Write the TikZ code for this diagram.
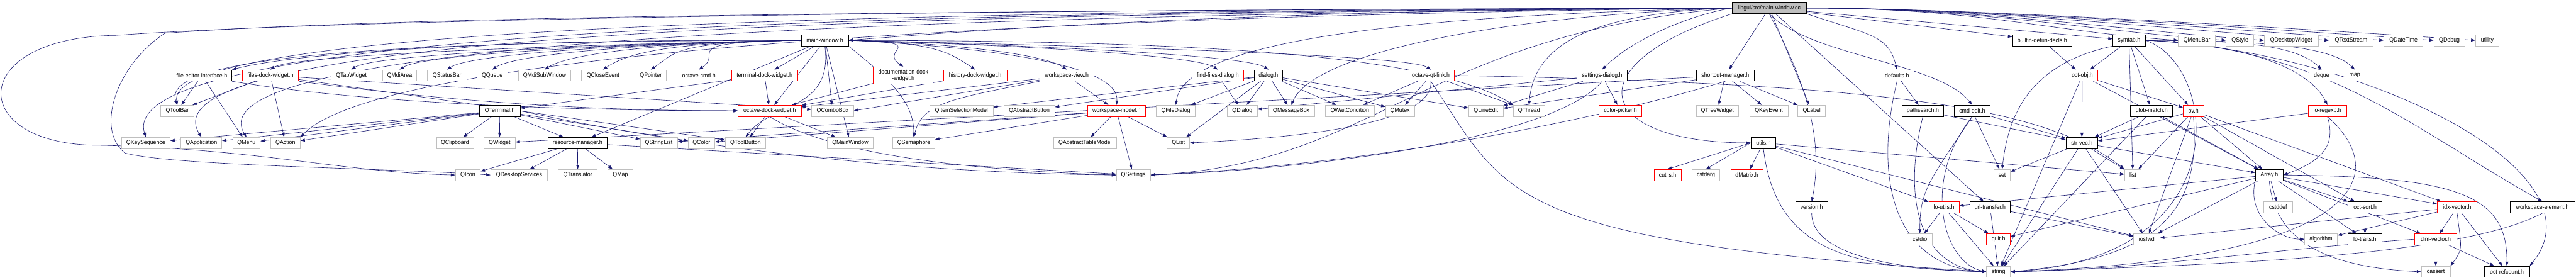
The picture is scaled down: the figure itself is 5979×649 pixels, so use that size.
\documentclass[tikz,border=0pt]{standalone}
\usepackage{fontspec}
\setmainfont{Liberation Sans}[FakeStretch=0.92]
\usetikzlibrary{arrows.meta,backgrounds}
\definecolor{edgeblue}{RGB}{25,25,112}
\definecolor{extgray}{RGB}{191,191,191}
\definecolor{truncred}{RGB}{255,0,0}

\begin{document}
\begin{tikzpicture}[
  x=1pt,y=-1pt,
  base/.style={rectangle,minimum height=26pt,inner sep=0pt,line width=1.1pt,fill=white,
    font=\fontsize{14}{15}\selectfont},
  ext/.style={base,draw=extgray},
  hdr/.style={base,draw=black},
  trunc/.style={base,draw=truncred},
  rootnode/.style={base,draw=black,fill=extgray},
  dep/.style={draw=edgeblue,line width=0.9pt,-{Triangle[length=10pt,width=7pt]}}
]
\useasboundingbox (0,0) rectangle (5979,649);
% row 0
\node[rootnode,minimum width=173pt] (root) at (4106.5,18.6) {libgui/src/main-window.cc};
% row 1
\node[hdr,minimum width=109pt] (mwh) at (1914.5,93.5) {main-window.h};
\node[hdr,minimum width=138pt] (builtin) at (4740,93.5) {builtin-defun-decls.h};
\node[hdr,minimum width=75pt] (symtab) at (4941.5,93.5) {symtab.h};
\node[ext,minimum width=86pt] (QMenuBar) at (5099,93.5) {QMenuBar};
\node[ext,minimum width=64pt] (QStyle) at (5199,93.5) {QStyle};
\node[ext,minimum width=126pt] (QDesktopWidget) at (5318,93.5) {QDesktopWidget};
\node[ext,minimum width=102pt] (QTextStream) at (5457,93.5) {QTextStream};
\node[ext,minimum width=91pt] (QDateTime) at (5578.5,93.5) {QDateTime};
\node[ext,minimum width=72pt] (QDebug) at (5685,93.5) {QDebug};
\node[ext,minimum width=54pt] (utility) at (5773,93.5) {utility};
% row 2
\node[hdr,minimum width=139pt] (fei) at (468.5,175) {file-editor-interface.h};
\node[trunc,minimum width=131pt] (fdw) at (627.5,175) {files-dock-widget.h};
\node[ext,minimum width=95pt] (QTabWidget) at (815.5,175) {QTabWidget};
\node[ext,minimum width=79pt] (QMdiArea) at (927.5,175) {QMdiArea};
\node[ext,minimum width=91pt] (QStatusBar) at (1037.5,175) {QStatusBar};
\node[ext,minimum width=71pt] (QQueue) at (1142.5,175) {QQueue};
\node[ext,minimum width=122pt] (QMdiSubWindow) at (1264,175) {QMdiSubWindow};
\node[ext,minimum width=101pt] (QCloseEvent) at (1399.5,175) {QCloseEvent};
\node[ext,minimum width=73pt] (QPointer) at (1510.5,175) {QPointer};
\node[trunc,minimum width=102pt] (ocmd) at (1622,175) {octave-cmd.h};
\node[trunc,minimum width=153pt] (tdw) at (1774.5,175) {terminal-dock-widget.h};
\node[trunc,minimum width=139pt,minimum height=40pt,align=center] (ddw) at (2096.5,175) {documentation-dock\\-widget.h};
\node[trunc,minimum width=147pt] (hdw) at (2263.5,175) {history-dock-widget.h};
\node[trunc,minimum width=126pt] (wsv) at (2476,175) {workspace-view.h};
\node[trunc,minimum width=119pt] (ffd) at (2826.5,175) {find-files-dialog.h};
\node[hdr,minimum width=66pt] (dialog) at (2944,175) {dialog.h};
\node[trunc,minimum width=110pt] (oqtl) at (3321,175) {octave-qt-link.h};
\node[hdr,minimum width=117pt] (sdlg) at (3718.5,175) {settings-dialog.h};
\node[hdr,minimum width=135pt] (scm) at (4004.5,175) {shortcut-manager.h};
\node[hdr,minimum width=78pt] (defaults) at (4403,175) {defaults.h};
\node[trunc,minimum width=72pt] (octobj) at (4833,175) {oct-obj.h};
\node[ext,minimum width=59pt] (deque) at (5388.5,175) {deque};
\node[ext,minimum width=47pt] (map) at (5465.5,175) {map};
% row 3
\node[ext,minimum width=77pt] (QToolBar) at (411.5,257) {QToolBar};
\node[hdr,minimum width=94pt] (QTerminal) at (1160,257) {QTerminal.h};
\node[trunc,minimum width=147pt] (odw) at (1786.5,257) {octave-dock-widget.h};
\node[ext,minimum width=97pt] (QComboBox) at (1932.5,257) {QComboBox};
\node[ext,minimum width=147pt] (QItemSelectionModel) at (2231.5,257) {QItemSelectionModel};
\node[ext,minimum width=118pt] (QAbstractButton) at (2389,257) {QAbstractButton};
\node[trunc,minimum width=135pt] (wsm) at (2591.5,257) {workspace-model.h};
\node[ext,minimum width=90pt] (QFileDialog) at (2729,257) {QFileDialog};
\node[ext,minimum width=69pt] (QDialog) at (2883.5,257) {QDialog};
\node[ext,minimum width=108pt] (QMessageBox) at (2997,257) {QMessageBox};
\node[ext,minimum width=114pt] (QWaitCondition) at (3133,257) {QWaitCondition};
\node[ext,minimum width=67pt] (QMutex) at (3249.5,257) {QMutex};
\node[ext,minimum width=80pt] (QLineEdit) at (3449,257) {QLineEdit};
\node[ext,minimum width=72pt] (QThread) at (3549,257) {QThread};
\node[trunc,minimum width=100pt] (colorpicker) at (3761,257) {color-picker.h};
\node[ext,minimum width=98pt] (QTreeWidget) at (3986,257) {QTreeWidget};
\node[ext,minimum width=89pt] (QKeyEvent) at (4105.5,257) {QKeyEvent};
\node[ext,minimum width=64pt] (QLabel) at (4205,257) {QLabel};
\node[hdr,minimum width=96pt] (pathsearch) at (4463,257) {pathsearch.h};
\node[hdr,minimum width=83pt] (cmdedit) at (4577.5,257) {cmd-edit.h};
\node[hdr,minimum width=98pt] (globmatch) at (4994,257) {glob-match.h};
\node[trunc,minimum width=48pt] (ovh) at (5091,257) {ov.h};
\node[trunc,minimum width=88pt] (loregexp) at (5402,257) {lo-regexp.h};
% row 4
\node[ext,minimum width=113pt] (QKeySequence) at (338.5,331.5) {QKeySequence};
\node[ext,minimum width=95pt] (QApplication) at (467.5,331.5) {QApplication};
\node[ext,minimum width=64pt] (QMenu) at (572,331.5) {QMenu};
\node[ext,minimum width=69pt] (QAction) at (662.5,331.5) {QAction};
\node[ext,minimum width=86pt] (QClipboard) at (1056,331.5) {QClipboard};
\node[ext,minimum width=73pt] (QWidget) at (1159.5,331.5) {QWidget};
\node[hdr,minimum width=137pt] (resmgr) at (1340.5,331.5) {resource-manager.h};
\node[ext,minimum width=86pt] (QStringList) at (1529,331.5) {QStringList};
\node[ext,minimum width=62pt] (QColor) at (1628,331.5) {QColor};
\node[ext,minimum width=93pt] (QToolButton) at (1730.5,331.5) {QToolButton};
\node[ext,minimum width=107pt] (QMainWindow) at (1973.5,331.5) {QMainWindow};
\node[ext,minimum width=98pt] (QSemaphore) at (2121,331.5) {QSemaphore};
\node[ext,minimum width=147pt] (QAbstractTableModel) at (2518.5,331.5) {QAbstractTableModel};
\node[ext,minimum width=52pt] (QList) at (2735,331.5) {QList};
\node[hdr,minimum width=58pt] (utilsh) at (4093,331.5) {utils.h};
\node[hdr,minimum width=74pt] (strvec) at (4832,331.5) {str-vec.h};
% row 5
\node[ext,minimum width=58pt] (QIcon) at (1086,406) {QIcon};
\node[ext,minimum width=132pt] (QDesktopServices) at (1205,406) {QDesktopServices};
\node[ext,minimum width=90pt] (QTranslator) at (1341,406) {QTranslator};
\node[ext,minimum width=58pt] (QMap) at (1440,406) {QMap};
\node[ext,minimum width=79pt] (QSettings) at (2630.5,406) {QSettings};
\node[trunc,minimum width=63pt] (cutils) at (3870.5,406) {cutils.h};
\node[ext,minimum width=65pt] (cstdarg) at (3959.5,406) {cstdarg};
\node[trunc,minimum width=75pt] (dMatrix) at (4054.5,406) {dMatrix.h};
\node[ext,minimum width=38pt] (set) at (4647,406) {set};
\node[ext,minimum width=39pt] (list) at (4950.5,406) {list};
\node[hdr,minimum width=64pt] (Array) at (5267,406) {Array.h};
% row 6
\node[hdr,minimum width=74pt] (version) at (4205,481) {version.h};
\node[trunc,minimum width=70pt] (loutils) at (4512,481) {lo-utils.h};
\node[hdr,minimum width=94pt] (urlt) at (4619,481) {url-transfer.h};
\node[ext,minimum width=67pt] (cstddef) at (5287.5,481) {cstddef};
\node[hdr,minimum width=79pt] (octsort) at (5489.5,481) {oct-sort.h};
\node[trunc,minimum width=92pt] (idxvec) at (5703,481) {idx-vector.h};
\node[hdr,minimum width=150pt] (wse) at (5901,481) {workspace-element.h};
% row 7
\node[ext,minimum width=58pt] (cstdio) at (4456,555) {cstdio};
\node[trunc,minimum width=55pt] (quit) at (4638.5,555) {quit.h};
\node[ext,minimum width=61pt] (iosfwd) at (4982.5,555) {iosfwd};
\node[ext,minimum width=76pt] (algorithm) at (5387,555) {algorithm};
\node[hdr,minimum width=78pt] (lotraits) at (5489,555) {lo-traits.h};
\node[trunc,minimum width=97pt] (dimvec) at (5653.5,555) {dim-vector.h};
% row 8
\node[ext,minimum width=55pt] (string) at (4638.5,630.5) {string};
\node[ext,minimum width=67pt] (cassert) at (5653.5,630.5) {cassert};
\node[hdr,minimum width=105pt] (octref) at (5818.5,630.5) {oct-refcount.h};

\begin{scope}[on background layer]
% root: bundle along the top, then down on the left
\draw[dep] (root.west) .. controls (3000,22) and (2400,60) .. (mwh.east);
\draw[dep] (root.west) .. controls (2500,25) and (380,40) .. (QToolBar.north);
\draw[dep] (root.west) .. controls (2500,28) and (250,40) .. (QKeySequence.north);
\draw[dep] (root.west) .. controls (2500,30) and (300,50) .. (QApplication.north);
\draw[dep] (root.west) .. controls (2500,33) and (420,70) .. (QMenu.north);
\draw[dep] (root.west) .. controls (2500,36) and (900,110) .. (QAction.north east);
\draw[dep] (root.west) .. controls (2000,22) and (700,50) .. (270,82) .. controls (-80,86) and (-80,337) .. (230,337) .. controls (600,345) and (800,400) .. (QIcon.west);
\draw[dep] (root.west) .. controls (2000,25) and (900,40) .. (383,77) .. controls (270,150) and (220,300) .. (290,355) .. controls (400,385) and (900,390) .. (QDesktopServices.west);
\draw[dep] (root.west) .. controls (3300,35) and (2750,90) .. (QFileDialog.north);
\draw[dep] (root.west) .. controls (3500,35) and (3050,120) .. (QMessageBox.north);
\draw[dep] (root.west) .. controls (3700,30) and (3560,100) .. (QThread.north);
\draw[dep] (root.west) .. controls (3900,40) and (3780,100) .. (sdlg.north);
\draw[dep] (root.west) .. controls (3300,80) and (3200,380) .. (QSettings.east);
\draw[dep] (root.south west) .. controls (3650,150) and (3700,330) .. (utilsh.west);
% root: to the right and below
\foreach \t in {QMenuBar,QStyle,QDesktopWidget,QTextStream,QDateTime,QDebug,utility}
  \draw[dep] (root.east) .. controls +(400,0) and +(-300,-20) .. (\t.west);
\draw[dep] (root) -- (builtin); \draw[dep] (root) -- (symtab);
\draw[dep] (root) -- (scm); \draw[dep] (root) -- (QLabel); \draw[dep] (root) -- (urlt);
\draw[dep] (root.south) .. controls +(80,150) and +(30,-150) .. (version.north);
\draw[dep] (root.south) .. controls +(100,100) and +(-80,-100) .. (cmdedit.north);
\draw[dep] (root.south east) .. controls +(150,50) and +(-20,-80) .. (defaults.north);
% main-window.h
\foreach \t in {fdw,QTabWidget,QMdiArea,QStatusBar,QQueue,QMdiSubWindow,QCloseEvent,QPointer,ocmd}
  \draw[dep] (mwh.west) .. controls +(-300,5) and +(60,-40) .. (\t.north);
\draw[dep] (mwh.west) .. controls (1200,90) and (700,120) .. (fei.north east);
\draw[dep] (mwh.west) .. controls (900,95) and (370,130) .. (QToolBar.north);
\draw[dep] (mwh) -- (tdw);
\foreach \t in {ddw,hdw,wsv,ffd,dialog,oqtl}
  \draw[dep] (mwh.east) .. controls +(200,5) and +(-60,-40) .. (\t.north);
\draw[dep] (mwh.east) .. controls (2300,110) and (2600,150) .. (wsm.north);
\draw[dep] (mwh.east) .. controls (2600,95) and (3300,110) .. (QThread.north west);
\draw[dep] (mwh.south east) .. controls +(100,80) and +(0,-80) .. (QSemaphore.north);
\draw[dep] (mwh) -- (resmgr); \draw[dep] (mwh) -- (odw);
\draw[dep] (mwh) -- (QComboBox); \draw[dep] (mwh) -- (QMainWindow);
\draw[dep] (mwh.south) .. controls +(20,150) and +(60,-80) .. (QToolButton.north);
% dock widgets
\draw[dep] (tdw) -- (QTerminal); \draw[dep] (tdw) -- (odw);
\draw[dep] (fei) -- (QToolBar); \draw[dep] (fei) -- (QMenu);
\draw[dep] (fei.south east) .. controls +(300,50) and +(-400,0) .. (odw.west);
\draw[dep] (fdw) -- (QToolBar); \draw[dep] (fdw) -- (QAction);
\draw[dep] (fdw.south east) .. controls +(300,40) and +(-400,0) .. (odw.west);
\draw[dep] (fdw) -- (QToolButton); \draw[dep] (fdw) -- (QComboBox);
\draw[dep] (hdw) -- (odw); \draw[dep] (ddw) -- (odw);
\draw[dep] (wsv) -- (odw); \draw[dep] (wsv) -- (QComboBox.east);
\draw[dep] (wsv) -- (wsm);
\draw[dep] (wsv.south west) .. controls +(-200,40) and +(20,-80) .. (QSemaphore.north);
\draw[dep] (odw) -- (QToolButton); \draw[dep] (odw) -- (QMainWindow);
\draw[dep] (odw.south) .. controls (1880,330) and (2100,390) .. (QSettings.west);
% QTerminal.h and resource-manager.h
\foreach \t in {QKeySequence,QApplication,QMenu,QAction,QClipboard,QWidget,resmgr,QStringList,QColor}
  \draw[dep] (QTerminal) -- (\t);
\draw[dep] (QTerminal.east) .. controls (1500,320) and (2000,400) .. (QSettings.west);
\foreach \t in {QIcon,QDesktopServices,QTranslator,QMap}
  \draw[dep] (resmgr) -- (\t);
\draw[dep] (resmgr) -- (QSettings);
% workspace model, dialogs
\foreach \t in {QAbstractTableModel,QList,QSettings,QSemaphore,QColor,QStringList}
  \draw[dep] (wsm) -- (\t);
\draw[dep] (ffd) -- (QDialog);
\foreach \t in {QMutex,QWaitCondition,QAbstractButton,QList,QItemSelectionModel,QDialog,QMessageBox,QLineEdit,QFileDialog}
  \draw[dep] (dialog) -- (\t);
\draw[dep] (oqtl) -- (QMutex); \draw[dep] (oqtl) -- (QWaitCondition); \draw[dep] (oqtl) -- (QThread);
\draw[dep] (oqtl.south) .. controls (3330,290) and (3000,320) .. (QList.east);
\draw[dep] (oqtl.east) .. controls (4400,195) and (4750,250) .. (list.north west);
\draw[dep] (oqtl.south) .. controls (3497,450) and (3480,560) .. (string.west);
\draw[dep] (sdlg) -- (QDialog); \draw[dep] (sdlg) -- (QLineEdit); \draw[dep] (sdlg) -- (colorpicker);
\draw[dep] (sdlg.south) .. controls (3600,330) and (3000,395) .. (QSettings.east);
\foreach \t in {QWidget,QTreeWidget,QLineEdit,QKeyEvent,QLabel}
  \draw[dep] (scm) -- (\t);
\draw[dep] (scm.south) .. controls (3700,280) and (3200,380) .. (QSettings.east);
% liboctave / libinterp headers
\draw[dep] (builtin) -- (octobj);
\foreach \t in {octobj,globmatch,list,ovh}
  \draw[dep] (symtab) -- (\t);
\draw[dep] (symtab.east) .. controls +(200,0) and +(-60,-60) .. (deque.north);
\draw[dep] (symtab.east) .. controls +(220,0) and +(-60,-60) .. (map.north);
\draw[dep] (symtab.east) .. controls +(250,10) and +(-40,-80) .. (loregexp.north);
\draw[dep] (symtab.south west) .. controls (4700,150) and (4660,280) .. (set.north);
\draw[dep] (symtab.east) .. controls (5400,110) and (5600,300) .. (wse.north);
\draw[dep] (symtab.east) .. controls (5500,120) and (6050,400) .. (octref.north east);
\draw[dep] (symtab.east) .. controls (5150,150) and (5200,600) .. (string.east);
\draw[dep] (defaults) -- (pathsearch);
\draw[dep] (defaults.south) .. controls +(-60,250) and +(-200,-10) .. (string.west);
\draw[dep] (pathsearch) -- (strvec);
\draw[dep] (pathsearch.south) .. controls +(-50,200) and +(-150,-10) .. (string.west);
\draw[dep] (cmdedit) -- (strvec); \draw[dep] (cmdedit) -- (set);
\draw[dep] (cmdedit.south) .. controls +(-100,150) and +(0,-100) .. (cstdio.north);
\draw[dep] (cmdedit.south) .. controls +(-120,150) and +(-100,-20) .. (string.west);
\draw[dep] (urlt) -- (string); \draw[dep] (urlt) -- (iosfwd);
\draw[dep] (version.south) .. controls +(0,100) and +(-200,-5) .. (string.west);
\foreach \t in {dMatrix,list,iosfwd,loutils}
  \draw[dep] (utilsh) -- (\t);
\draw[dep] (utilsh.west) -- (cutils.north); \draw[dep] (utilsh.west) -- (cstdarg.north);
\draw[dep] (utilsh.south) .. controls +(30,250) and +(-300,-10) .. (string.west);
\draw[dep] (loutils) -- (cstdio); \draw[dep] (loutils) -- (quit); \draw[dep] (loutils) -- (string);
\foreach \t in {set,list,iosfwd,string,Array}
  \draw[dep] (strvec) -- (\t);
\draw[dep] (octobj) -- (strvec); \draw[dep] (octobj) -- (string);
\draw[dep] (octobj) -- (Array); \draw[dep] (octobj) -- (ovh);
\draw[dep] (globmatch) -- (strvec); \draw[dep] (globmatch) -- (Array); \draw[dep] (globmatch) -- (string);
\foreach \t in {strvec,list,iosfwd,Array,idxvec,octsort}
  \draw[dep] (ovh) -- (\t);
\draw[dep] (ovh.south) .. controls (5110,500) and (5000,600) .. (string.east);
\draw[dep] (loregexp) -- (strvec);
\draw[dep] (loregexp.south) .. controls (5420,330) and (5400,370) .. (Array.east);
\draw[dep] (loregexp.south) .. controls (5550,400) and (5500,600) .. (string.east);
\foreach \t in {cstddef,octsort,lotraits,idxvec,dimvec,iosfwd,loutils,quit}
  \draw[dep] (Array) -- (\t);
\draw[dep] (Array.south) .. controls (5280,560) and (5400,620) .. (cassert.west);
\draw[dep] (Array.south west) .. controls +(-20,80) and +(-60,0) .. (algorithm.west);
\draw[dep] (Array.east) .. controls (5700,410) and (5820,450) .. (octref.north);
\draw[dep] (octsort) -- (lotraits);
\foreach \t in {dimvec,octref,algorithm,iosfwd}
  \draw[dep] (idxvec) -- (\t);
\draw[dep] (idxvec.south) .. controls +(10,80) and +(30,-40) .. (cassert.north east);
\draw[dep] (dimvec) -- (cassert); \draw[dep] (dimvec) -- (octref);
\draw[dep] (dimvec.west) .. controls +(-300,20) and +(300,-5) .. (string.east);
\draw[dep] (wse.south) .. controls (5700,600) and (5100,615) .. (string.east);
\end{scope}
\end{tikzpicture}
\end{document}
